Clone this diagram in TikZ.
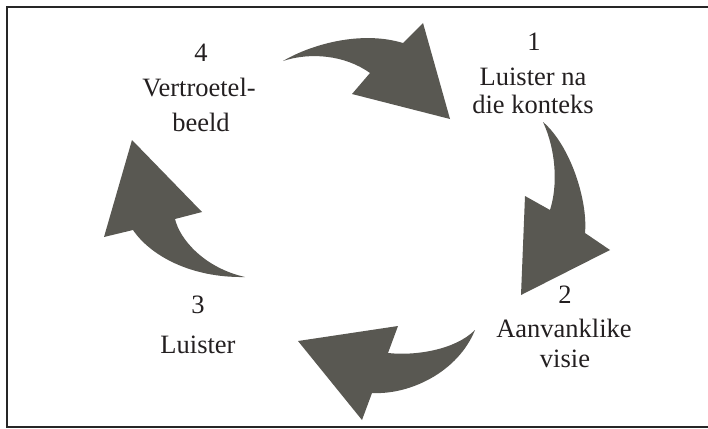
\documentclass[tikz,border=0pt]{standalone}
\usepackage{fontspec}
\setmainfont{Liberation Serif}
\definecolor{arrowgray}{RGB}{89,88,82}
\definecolor{txt}{RGB}{35,31,32}
\begin{document}
\begin{tikzpicture}[x=1pt,y=-1pt,
  cyc/.style={fill=arrowgray,draw=none},
  lbl/.style={anchor=base,inner sep=0pt,text=txt,font=\fontsize{26.5}{30}\selectfont}]
\useasboundingbox (0,0) rectangle (708,428);
\clip (0,0) rectangle (708,428);
\draw[line width=2pt,color=black!85] (720,7) -- (7,7) -- (7,426.5) -- (720,426.5);
% arrow 1 (top)
\fill[cyc] (283,61) .. controls (310,45) and (360,30) .. (403,43) -- (423,23) -- (450,119) -- (352,94) -- (370,73) .. controls (345,55) and (310,52) .. cycle;
% arrow 2 (right)
\fill[cyc] (543,122) .. controls (570,145) and (588,200) .. (585,233) -- (610,250) -- (521,295) -- (525,196) -- (550,210) .. controls (558,185) and (556,150) .. cycle;
% arrow 3 (bottom)
\fill[cyc] (475,330) .. controls (458,372) and (410,395) .. (372,393) -- (362,420) -- (298,341) -- (398,326) -- (388,353) .. controls (415,356) and (455,350) .. cycle;
% arrow 4 (left)
\fill[cyc] (245,277) .. controls (190,278) and (150,255) .. (133,230) -- (104,237) -- (132,140) -- (202,212) -- (175,219) .. controls (180,240) and (205,268) .. cycle;
% labels
\node[lbl] (n1) at (534,50) {1};
\node[lbl] (l1a) at (533,85.7) {Luister na};
\node[lbl] (l1b) at (533,113) {die konteks};
\node[lbl] (n2) at (565,303.3) {2};
\node[lbl] (l2a) at (564,337.3) {Aanvanklike};
\node[lbl] (l2b) at (565,367.3) {visie};
\node[lbl] (n3) at (198,313.3) {3};
\node[lbl] (l3a) at (198,353.3) {Luister};
\node[lbl] (n4) at (201,61.7) {4};
\node[lbl] (l4a) at (199,96) {Vertroetel-};
\node[lbl] (l4b) at (201,131.7) {beeld};
\end{tikzpicture}
\end{document}
